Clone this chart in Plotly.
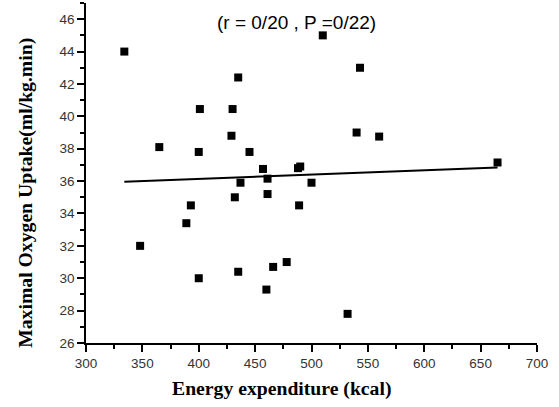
import plotly.graph_objects as go

energy_kcal = [334, 510, 435, 543, 401, 430, 540, 429, 560, 365, 400, 445, 665,
               457, 488, 490, 461, 437, 500, 461, 432, 393, 489, 389, 348, 478,
               466, 435, 400, 460, 532]
vo2max = [44.0, 45.0, 42.4, 43.0, 40.45, 40.45, 39.0, 38.8, 38.75, 38.1, 37.8, 37.8, 37.15,
          36.75, 36.8, 36.9, 36.15, 35.9, 35.9, 35.2, 35.0, 34.5, 34.5, 33.4, 32.0, 31.0,
          30.7, 30.4, 30.0, 29.3, 27.8]
fit_x = [334, 665]
fit_y = [35.96, 36.84]

x_title = "Energy expenditure (kcal)"
y_title = "Maximal Oxygen Uptake(ml/kg.min)"
stat_text = "(r = 0/20 , P =0/22)"

fig = go.Figure()
fig.add_trace(go.Scatter(x=fit_x, y=fit_y, mode="lines",
                         line=dict(color="black", width=2), showlegend=False))
fig.add_trace(go.Scatter(x=energy_kcal, y=vo2max, mode="markers",
                         marker=dict(symbol="square", size=8, color="black"),
                         showlegend=False))

tickfont = dict(family="Liberation Sans, Arial, sans-serif", size=13.5, color="#333")
axis_common = dict(showline=True, linecolor="black", linewidth=1.5, ticks="outside",
                   ticklen=7, tickwidth=1.5, tickcolor="black", showgrid=False,
                   zeroline=False, tickfont=tickfont, mirror=False)

fig.update_xaxes(range=[300, 700], dtick=50, tick0=300,
                 minor=dict(dtick=25, ticks="outside", ticklen=4, tickcolor="black", tickwidth=1.5),
                 **axis_common)
fig.update_yaxes(range=[26, 47], dtick=2, tick0=26,
                 minor=dict(dtick=1, ticks="outside", ticklen=4, tickcolor="black", tickwidth=1.5),
                 **axis_common)

title_font = dict(family="Liberation Serif, Times New Roman, serif", size=19.7, color="black")
fig.add_annotation(text="<b>" + x_title + "</b>", xref="paper", yref="paper",
                   x=0.4338, y=-0.1343, xanchor="center", yanchor="middle",
                   showarrow=False, font=title_font)
fig.add_annotation(text="<b>" + y_title + "</b>", xref="paper", yref="paper",
                   x=-0.133, y=0.4417, xanchor="center", yanchor="middle",
                   textangle=-90, showarrow=False, font=title_font)
fig.add_annotation(text=stat_text, xref="x", yref="y", x=487, y=45.8,
                   xanchor="center", yanchor="middle", showarrow=False,
                   font=dict(family="Liberation Sans, Arial, sans-serif", size=19, color="black"))

fig.update_layout(width=559, height=407, margin=dict(l=86, r=22, t=3, b=64),
                  paper_bgcolor="white", plot_bgcolor="white")

fig.write_html("out.html")
